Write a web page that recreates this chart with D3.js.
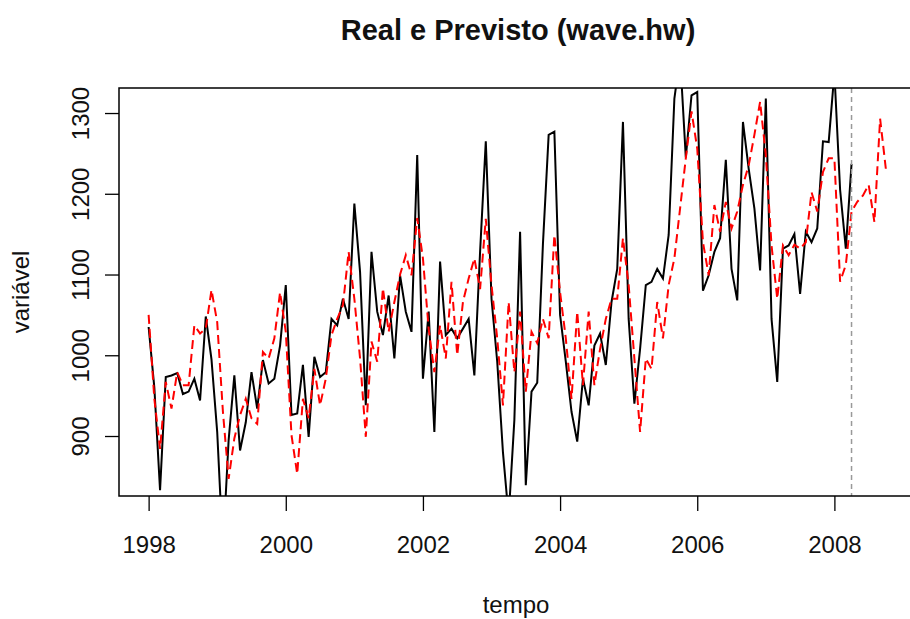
<!DOCTYPE html>
<html>
<head>
<meta charset="utf-8">
<script src="https://cdn.jsdelivr.net/npm/d3@7"></script>
<style>
  html, body { margin: 0; padding: 0; background: #fff; }
  svg { display: block; }
  text { font-family: "Liberation Sans", Arial, Helvetica, sans-serif; fill: #111; }
</style>
</head>
<body>
<svg id="chart" width="910" height="619"></svg>
<script>
// ---- data (monthly, starting Jan 1998) ----
const startYear = 1998;
const real = [1035,960,833,973,975,978,952,955,971,944,1048,995,
  905,760,895,975,882,917,979,934,994,965,971,1012,
  1087,926,928,988,899,998,973,979,1045,1037,1070,1045,
  1188,1103,938,1128,1054,1025,1074,996,1099,1054,1029,1248,
  971,1054,905,1116,1025,1033,1021,1033,1045,975,1128,1265,
  1070,992,880,800,920,1153,839,955,966,1138,1273,1277,
  1050,992,930,893,971,938,1012,1027,988,1066,1107,1289,
  1045,940,1008,1087,1091,1107,1095,1149,1318,1370,1245,1322,
  1326,1080,1099,1128,1145,1242,1107,1068,1289,1231,1182,1105,
  1318,1045,967,1132,1136,1150,1076,1153,1140,1157,1265,1264,
  1350,1205,1132,1237];
const previsto = [1050,946,884,967,934,979,963,963,1037,1027,1033,1081,
  1041,930,847,897,926,946,922,915,1004,996,1021,1078,
  1029,901,853,946,922,983,938,971,1025,1045,1062,1128,
  1070,996,899,1017,992,1083,1029,1066,1100,1124,1099,1170,
  1120,1033,979,1037,996,1091,1000,1066,1095,1120,1082,1169,
  1087,1021,938,1066,979,1054,955,1029,1015,1045,1021,1149,
  1078,1021,946,1054,963,1054,963,1008,1045,1070,1070,1145,
  1087,996,905,996,983,1066,1021,1087,1120,1182,1244,1302,
  1256,1140,1099,1186,1153,1190,1157,1178,1211,1235,1273,1314,
  1248,1136,1070,1136,1124,1137,1132,1140,1202,1178,1227,1244,
  1244,1091,1112,1178,1190,1198,1211,1165,1293,1231];
const cutoff = 2008.25;
const xTicks = [1998, 2000, 2002, 2004, 2006, 2008];
const yTicks = [900, 1000, 1100, 1200, 1300];
const titleText = "Real e Previsto (wave.hw)";
const xLabel = "tempo";
const yLabel = "variável";

// ---- layout ----
const svg = d3.select("#chart");
const L = 119, R = 916, T = 88, B = 496;

const x = d3.scaleLinear().domain([1997.568, 2009.19]).range([L, R]);
const y = d3.scaleLinear().domain([825.7, 1331]).range([B, T]);

svg.append("rect").attr("width", 910).attr("height", 619).attr("fill", "#fff");

svg.append("defs").append("clipPath").attr("id", "clip")
  .append("rect").attr("x", L).attr("y", T).attr("width", R - L).attr("height", B - T);

const toPts = arr => arr.map((v, i) => ({t: startYear + i / 12, v}));
const line = d3.line().x(d => x(d.t)).y(d => y(d.v));

const g = svg.append("g").attr("clip-path", "url(#clip)");

g.append("path").datum(toPts(real))
  .attr("d", line).attr("fill", "none")
  .attr("stroke", "#000").attr("stroke-width", 2).attr("stroke-linejoin", "miter");

g.append("path").datum(toPts(previsto))
  .attr("d", line).attr("fill", "none")
  .attr("stroke", "#ff0000").attr("stroke-width", 2).attr("stroke-dasharray", "9,5");

g.append("line")
  .attr("x1", x(cutoff)).attr("x2", x(cutoff)).attr("y1", T).attr("y2", B)
  .attr("stroke", "#999").attr("stroke-width", 1.5).attr("stroke-dasharray", "5,4");

// box
svg.append("rect").attr("x", L).attr("y", T).attr("width", R - L).attr("height", B - T)
  .attr("fill", "none").attr("stroke", "#000").attr("stroke-width", 1.5);

// x axis
const xa = svg.append("g").attr("transform", `translate(0,${B})`)
  .call(d3.axisBottom(x).tickValues(xTicks).tickSize(15).tickFormat(d3.format("d")));
xa.select(".domain").remove();
xa.selectAll("line").attr("stroke", "#000").attr("stroke-width", 1.3);
xa.selectAll("text").attr("y", 57).attr("dy", 0)
  .style("font-size", "24px").style("font-family", "'Liberation Sans', Arial, sans-serif").attr("fill", "#111");

// y axis
const ya = svg.append("g").attr("transform", `translate(${L},0)`)
  .call(d3.axisLeft(y).tickValues(yTicks).tickSize(14).tickFormat(d3.format("d")));
ya.select(".domain").remove();
ya.selectAll("line").attr("stroke", "#000").attr("stroke-width", 1.3);
ya.selectAll("text").attr("transform", "rotate(-90)").attr("x", 0).attr("y", -30).attr("dy", 0)
  .attr("text-anchor", "middle")
  .style("font-size", "24px").style("font-family", "'Liberation Sans', Arial, sans-serif").attr("fill", "#111");

// title & labels
svg.append("text").attr("x", 518).attr("y", 40).attr("text-anchor", "middle")
  .style("font-size", "29px").style("font-weight", "bold").attr("fill", "#000")
  .text(titleText);

svg.append("text").attr("x", 516).attr("y", 613).attr("text-anchor", "middle")
  .style("font-size", "24px").text(xLabel);

svg.append("text").attr("transform", "translate(29,292) rotate(-90)").attr("text-anchor", "middle")
  .style("font-size", "24px").text(yLabel);
</script>
</body>
</html>
